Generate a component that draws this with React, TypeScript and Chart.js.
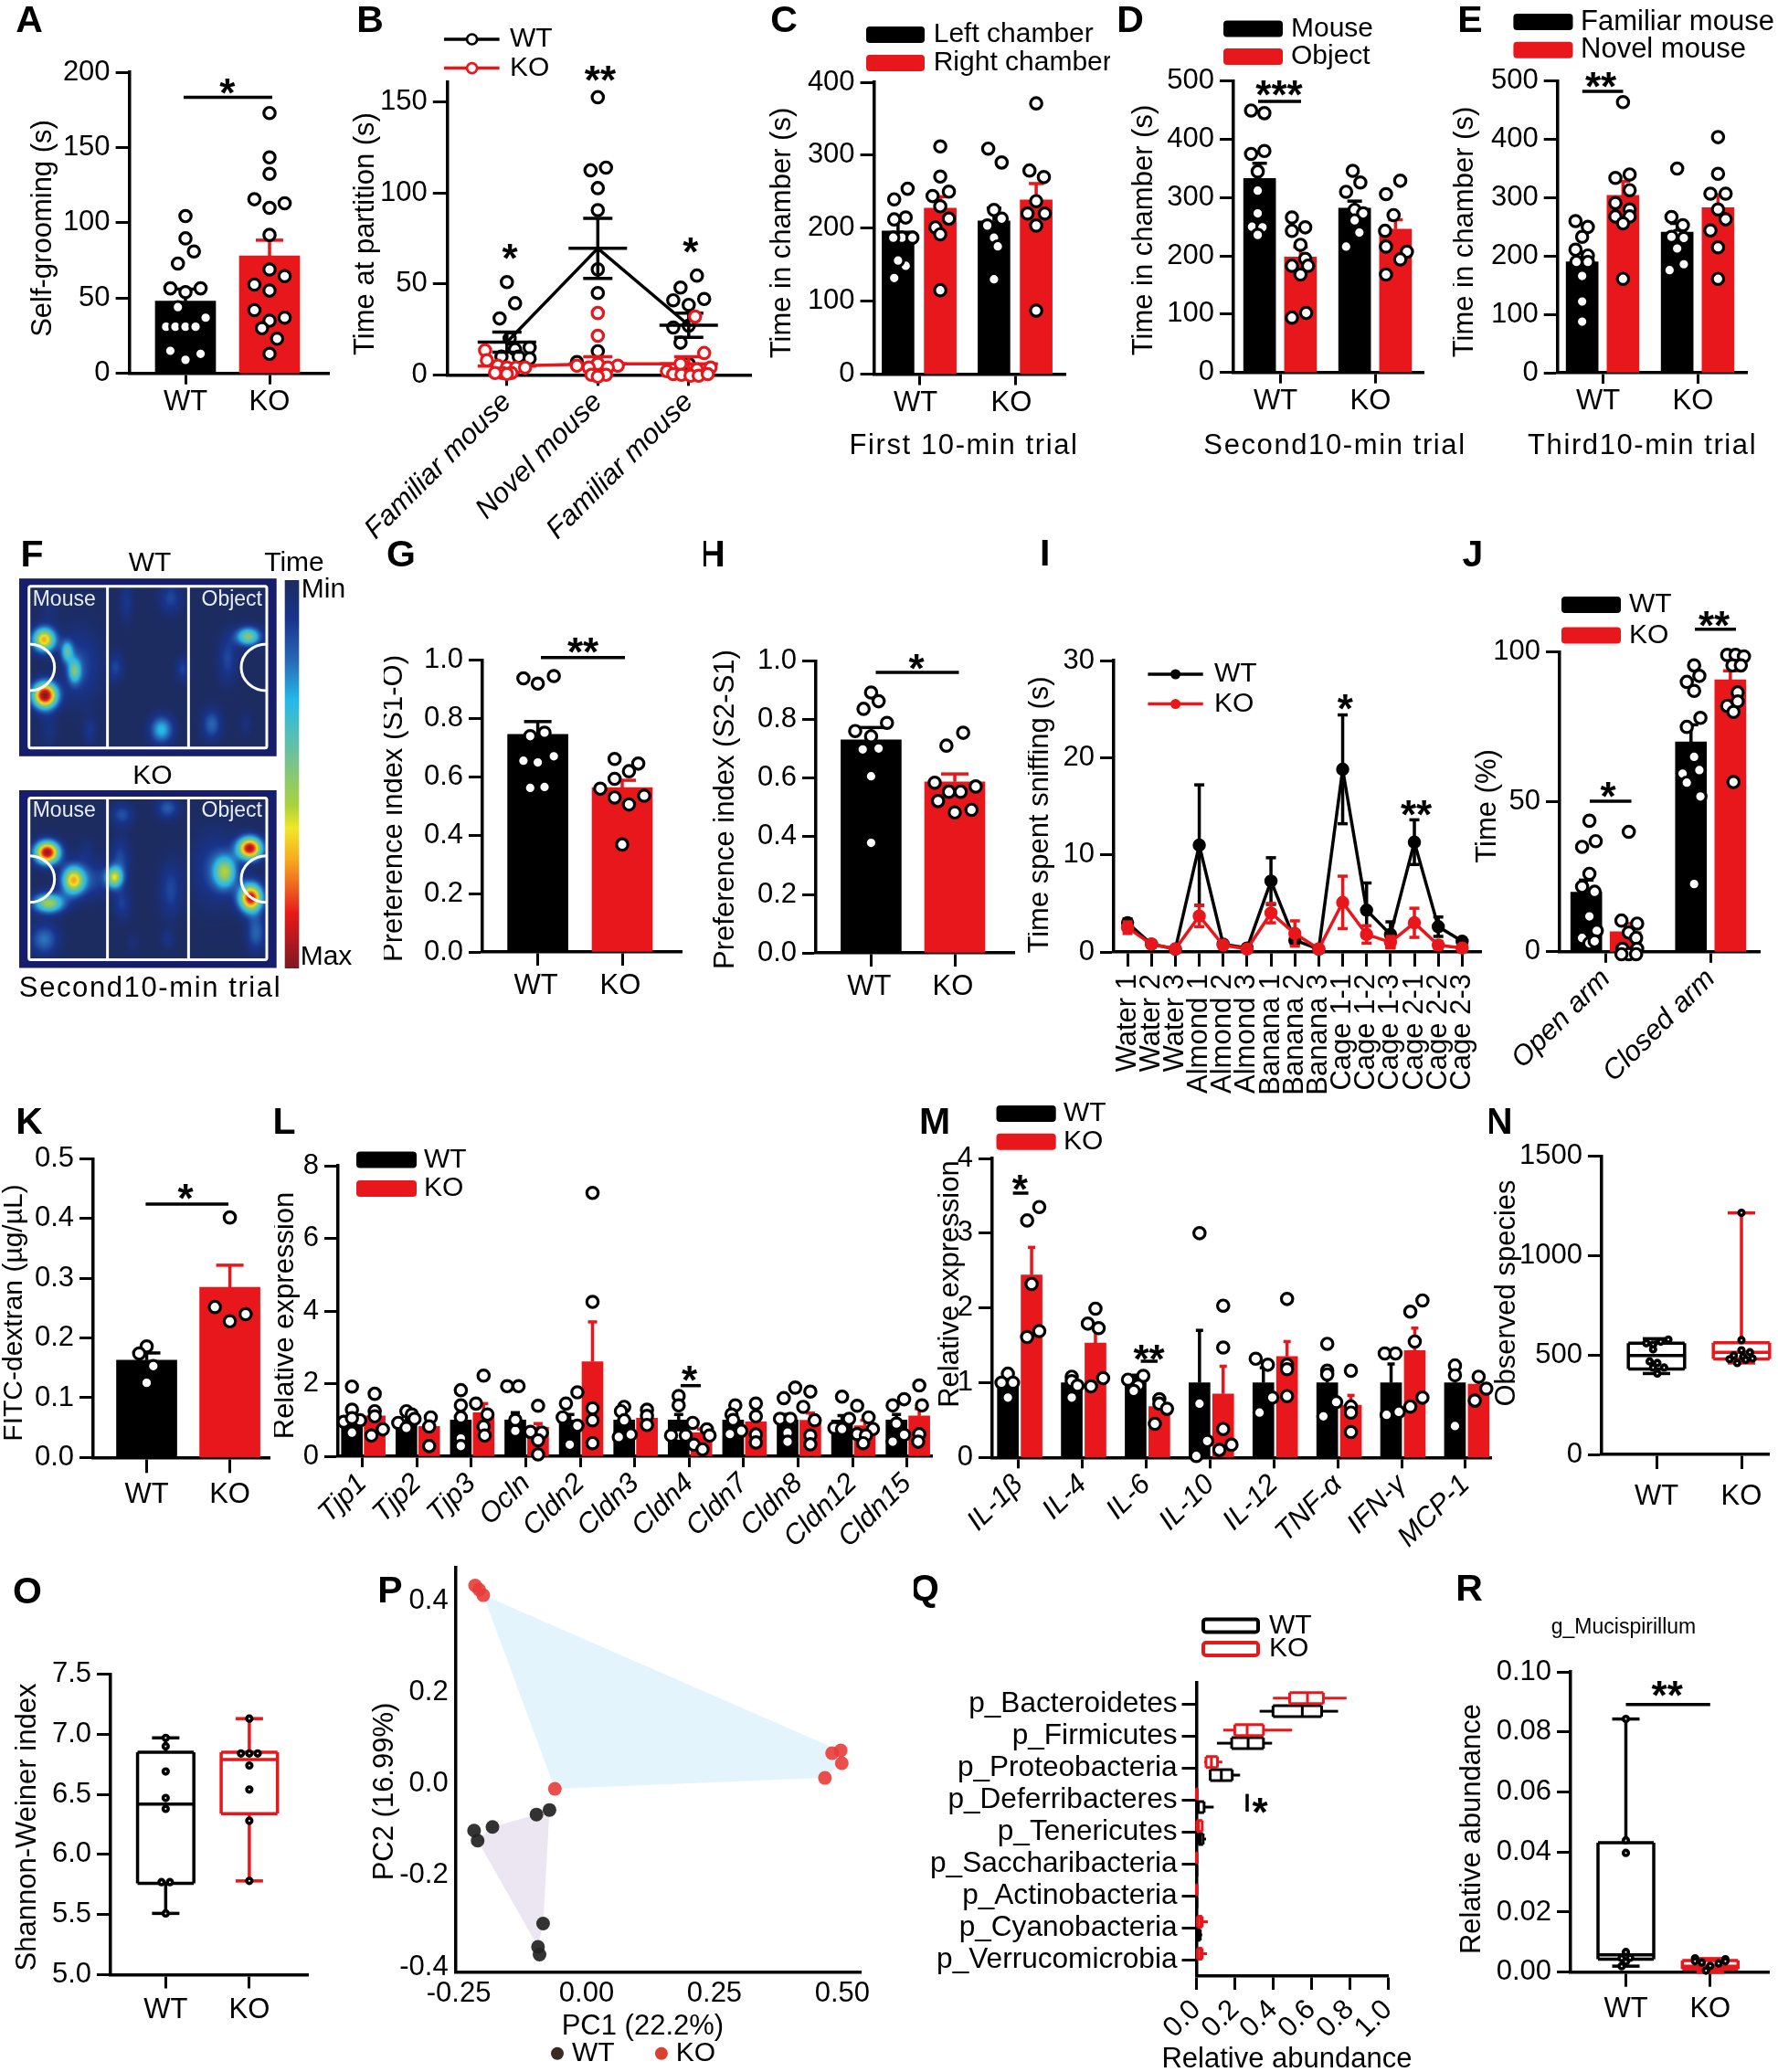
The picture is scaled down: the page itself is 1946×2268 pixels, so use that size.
import React, { useEffect, useRef } from 'react';
import { Chart, registerables } from 'chart.js';
Chart.register(...registerables);

const FF = '"Liberation Sans", Arial, Helvetica, sans-serif';
const BLACK = '#000000';
const RED = '#e8171b';
const TIMEFMT = (v: number) => String(v);

// ---------- DATA ----------
const wtKo = ['WT', 'KO'];
const aMeans = [48, 78];
const aErrs = [8, 10.5];
const aWtDots = [[0,104.5],[0,89.7],[.1,81],[-.09,73],[-.18,56.5],[.18,56.5],[0,54],[-.09,44],[-.23,31],[-.12,31],[0,31],[.12,31],[.24,37],[-.18,15],[.18,13],[0,9]];
const aKoDots = [[0,173],[0,143.5],[0,132.6],[-.18,115.7],[.18,113],[0,110],[0,92],[0,69],[.18,64.6],[-.18,59],[0,55],[-.18,42],[.18,37],[0,35],[-.09,30],[.09,23],[0,13]];

const bLabels = ['Familiar mouse', 'Novel mouse', 'Familiar mouse'];
const bWtMeans = [18, 69.6, 27.3];
const bWtErrs = [5.5, 16.5, 6.7];
const bKoMeans = [4.8, 6, 6];
const bKoErrs = [1.5, 4, 4];
const bWtDots = [
  [[0,51],[.09,39.4],[-.08,31],[.03,20],[.09,14],[.25,15],[-.06,10],[.13,10],[.25,9]],
  [[0,152.7],[.09,114],[-.08,112.5],[0,102.7],[0,90.6],[0,58],[0,45],[0,13],[-.23,7],[0,6]],
  [[.09,54.6],[-.09,48],[-.17,41],[0,38.5],[.17,41.7],[-.17,26],[0,27],[-.09,17.7],[0,6]],
];
const bKoDots = [
  [[-.24,13.5],[-.22,8],[-.1,5],[0,4],[.1,4],[-.05,1],[.05,1],[0,.5],[.2,4],[-.13,1]],
  [[0,34],[0,21.5],[0,6],[-.23,5],[.22,5],[-.1,4],[.11,4],[-.07,0],[.09,0],[0,-1]],
  [[.07,32],[.17,12],[-.09,6],[.24,4],[-.24,2],[.09,3],[-.17,.4],[-.08,0],[.02,-.5],[.11,-.5],[.21,.4]],
];

const cLeftMeans = [196, 210];
const cRightMeans = [227.5, 238.6];
const cLeftErrs = [18, 17.5];
const cRightErrs = [15.5, 22.5];
const cLeftDots = [
  [[.1,254],[-.04,239.5],[-.04,212],[.08,214.6],[.04,187],[-.05,187],[.15,187],[.08,148.5],[-.04,131.7],[0,155.7]],
  [[-.06,309],[.08,290],[.08,213],[-.07,203.6],[0,187],[.04,175],[0,130],[0,225]],
];
const cRightDots = [
  [[0,312],[0,270.7],[-.08,244],[.09,250],[0,230],[.09,213],[-.05,201],[0,191.6],[0,115]],
  [[0,371],[-.07,279],[.08,270],[0,237],[-.09,220],[.09,220],[0,203.6],[0,87]],
];

const dMouseMeans = [333, 282];
const dObjectMeans = [198, 246];
const dMouseErrs = [26, 12];
const dObjectErrs = [17, 16];
const dMouseDots = [
  [[-.09,449.6],[.05,445],[-.09,375],[.05,380],[-.02,345],[-.02,312],[-.02,273],[-.08,250],[.03,249],[-.02,236]],
  [[-.02,346],[.06,326],[-.09,310],[0,279],[.09,273],[0,261],[.05,240],[-.09,216]],
];
const dObjectDots = [
  [[-.09,266],[.05,249],[-.09,243],[0,219],[.05,195],[-.09,183],[.08,183],[0,168],[.06,102],[-.09,94]],
  [[.05,329],[-.1,306],[-.02,270],[-.11,243],[-.1,216],[.12,207],[.05,194],[-.1,168]],
];

const eFamiliarMeans = [190, 241];
const eNovelMeans = [304, 283];
const eFamiliarErrs = [16, 15];
const eNovelErrs = [24, 22];
const eFamiliarDots = [
  [[-.07,260],[.06,250],[0,233],[-.07,211],[.06,201],[-.06,190],[.06,190],[0,166],[0,122],[0,87.6]],
  [[0,350],[-.06,267],[.06,253],[0,235],[-.06,233],[.07,231],[0,213],[.07,186],[-.08,176]],
];
const eNovelDots = [
  [[0,464],[.07,340],[-.08,334],[.07,313],[-.08,291],[.07,280],[-.08,268],[.07,268],[0,256],[0,161]],
  [[0,404],[0,341],[-.08,307],[.08,307],[0,280],[.08,263],[-.08,244],[0,215],[0,161]],
];

// heat-map hot spots: x%, y%, spreadX, spreadY, intensity
const fWtSpots = [[9.7,34.3,3.1,4.6,.72],[10,65.7,3.3,5,1],[18.6,41,1.6,4.2,.36],[21.5,52,1.7,4.8,.38],[24,49,5.2,14,.14],[89,32.6,3.3,3.6,.5],[81,45,2.6,9.5,.14],[55.3,85,3.1,5.4,.32],[58.8,11,3,6,.14],[41.7,13,1.8,8.4,.1],[37.5,50,2.2,5.4,.13],[63.5,51,1.9,4.8,.13],[74.8,82,2.6,6,.2],[27.5,85.7,1.9,5.4,.1],[88,82,1.8,4.8,.06],[11.5,85,2.4,7.2,.07],[11.5,16,2.4,6,.06]];
const fKoSpots = [[10.9,35,3.3,4.3,.97],[11.5,63.5,4.2,3.8,.55],[21,50.6,3,5.4,.66],[37,49,2.2,4,.55],[39.3,38.6,2.6,8.4,.14],[40,64,2.4,6,.12],[40,13.7,3,4.2,.16],[57.6,10,3,4.2,.18],[89.6,32.6,3.3,4.3,.94],[90,60.5,3.1,5.4,.92],[80,46,3,6,.48],[76,44,6,14,.14],[92,80,2.6,7.2,.2],[9.7,84,3.8,6,.22],[57.6,84,1.9,3.6,.08],[58.8,56,3,10.8,.14],[28,50,6,7.2,.14],[25.7,34,2.4,4.8,.06],[44,86,1.8,3.6,.05]];

const gMeans = [.745, .563];
const gErrs = [.044, .025];
const gWtDots = [[-.17,.937],[0,.919],[.19,.945],[.08,.751],[-.09,.739],[.19,.67],[-.17,.655],[0,.649],[-.09,.562],[.08,.565]];
const gKoDots = [[-.09,.661],[.19,.645],[.08,.619],[-.09,.593],[-.26,.559],[-.09,.529],[.26,.535],[.08,.505],[0,.368]];

const hMeans = [.73, .586];
const hErrs = [.042, .027];
const hWtDots = [[0,.892],[.09,.862],[-.09,.836],[.19,.788],[-.19,.76],[0,.742],[.09,.7],[-.1,.697],[0,.605],[0,.377]];
const hKoDots = [[.1,.754],[-.1,.71],[-.24,.583],[.25,.57],[-.07,.552],[.07,.552],[-.2,.52],[0,.481],[.2,.49]];

const iLabels = ['Water 1','Water 2','Water 3','Almond 1','Almond 2','Almond 3','Banana 1','Banana 2','Banana 3','Cage 1-1','Cage 1-2','Cage 1-3','Cage 2-1','Cage 2-2','Cage 2-3'];
const iWtMeans = [3.0,.8,.3,11,.8,.4,7.3,1.2,.3,18.8,4.3,1.8,11.3,2.6,1.1];
const iWtErrs = [.4,.2,.1,6.2,.2,.1,2.4,.4,.1,5.6,2.8,1.3,2.3,1.0,.3];
const iKoMeans = [2.5,.8,.3,3.7,.7,.3,4,1.9,.3,5.1,1.8,1,3,.7,.4];
const iKoErrs = [.6,.3,.1,1.1,.3,.1,1,1.3,.1,2.7,.9,.6,1.5,.4,.2];

const jLabels = ['Open arm', 'Closed arm'];
const jWtMeans = [19.9, 70];
const jKoMeans = [6.7, 90.7];
const jWtErrs = [4, 5.7];
const jKoErrs = [2.7, 3];
const jWtDots = [
  [[.03,43.7],[.09,36.9],[-.04,35],[.03,26],[-.04,21.7],[.08,20],[.03,11.8],[.1,7],[-.04,4.6],[.03,2.8],[.08,3.5]],
  [[.03,95.5],[.08,92],[-.04,90],[.03,87],[.09,78],[-.04,75],[.03,65],[.08,60.6],[-.08,59.4],[-.04,56.4],[.09,51.8],[.03,22.6]],
];
const jKoDots = [
  [[.03,40],[-.04,10.4],[.11,9.4],[.03,6.4],[.1,4.6],[-.03,1],[.03,-.8],[.11,1],[.1,-.8],[-.04,-.8]],
  [[-.03,99],[.05,99],[.13,98.5],[.02,95.5],[.1,95.5],[.07,86.5],[-.03,82],[.07,83.5],[.03,80],[.03,56.6]],
];

const kMeans = [.163, .285];
const kErrs = [.012, .037];
const kWtDots = [[0,.186],[-.09,.174],[.08,.153],[0,.125]];
const kKoDots = [[0,.402],[-.18,.252],[.19,.24],[0,.228]];

const lGenes = ['Tjp1','Tjp2','Tjp3','Ocln','Cldn2','Cldn3','Cldn4','Cldn7','Cldn8','Cldn12','Cldn15'];
const lWtMeans = [1,1,1,1,1,1,1,1,1,1,1];
const lKoMeans = [1.11,.82,1.2,.8,2.6,1.05,.65,.95,.99,.84,1.11];
const lWtErrs = [.12,.1,.2,.2,.15,.1,.15,.12,.15,.12,.15];
const lKoErrs = [.2,.15,.25,.1,1.1,.15,.1,.2,.2,.15,.2];
const lWtDots = [
  [[0,1.92],[0,1.28],[-.15,.95],[.15,.99],[0,.65],[0,1.05]],
  [[0,1.24],[.1,1.15],[-.15,.92],[.15,1.03],[0,.78]],
  [[0,1.82],[0,1.4],[0,1.07],[0,.49],[0,.28]],
  [[-.15,1.93],[.06,1.93],[0,.9],[0,.7],[0,1]],
  [[.14,1.76],[-.07,1.45],[-.13,1.07],[.14,.84],[0,.32]],
  [[0,1.36],[-.06,1.24],[.12,.6],[-.1,.53],[0,.99]],
  [[0,1.66],[0,1.4],[0,.57],[-.14,.57],[.13,.57]],
  [[.04,1.4],[-.03,1.15],[.15,.7],[-.06,.61],[0,1]],
  [[.14,1.89],[-.07,1.6],[-.14,1.03],[.05,1.03],[0,.65],[0,.4]],
  [[0,1.64],[.13,1.03],[-.14,.78],[0,.75]],
  [[-.07,1.4],[.14,1.57],[.14,.59],[-.07,.4],[0,.9]],
];
const lKoDots = [
  [[0,1.72],[0,1.24],[.15,.74],[-.06,.57],[0,1.1]],
  [[.03,1.07],[0,.82],[0,.28]],
  [[0,2.22],[-.14,1.45],[.07,1.15],[0,.82],[.02,.57]],
  [[0,1.39],[-.14,.67],[.07,.65],[0,.44],[0,.05]],
  [[0,7.25],[0,4.25],[0,1.32],[0,.99],[0,.36]],
  [[0,1.28],[0,1.11],[0,.86]],
  [[-.16,.92],[.1,.74],[.15,.57],[-.14,.32],[.02,.19]],
  [[0,1.45],[0,1.1],[0,.6],[0,.38]],
  [[0,1.78],[-.13,1.36],[.08,.99],[0,.57],[0,.33]],
  [[-.14,1.39],[.07,1.07],[.15,.75],[-.14,.61],[.02,.57],[-.03,.36]],
  [[0,1.95],[.05,1.4],[0,.61],[-.02,.4]],
];

const mCytokines = ['IL-1β','IL-4','IL-6','IL-10','IL-12','TNF-α','IFN-γ','MCP-1'];
const mWtMeans = [1,1,1,1,1,1,1,1];
const mKoMeans = [2.44,1.53,.68,.85,1.35,.7,1.43,.98];
const mWtErrs = [.08,.08,.1,.7,.2,.2,.25,.1];
const mKoErrs = [.37,.2,.1,.37,.2,.13,.3,.06];
const mWtDots = [
  [[0,1.12],[-.1,1],[.08,1],[0,.8]],
  [[0,1.08],[0,1.02],[0,.8],[.09,.96]],
  [[-.12,1.04],[.12,1.09],[.04,.96],[-.03,.89]],
  [[0,3],[0,.72],[.12,.22],[-.05,.02]],
  [[-.12,1.32],[.07,1.24],[.14,.8],[-.06,.6]],
  [[0,1.52],[0,1.16],[0,1.11],[.14,.74],[-.06,.55]],
  [[-.1,1.39],[.07,1.39],[.12,.61],[-.07,.57]],
  [[0,1.23],[0,1.1],[0,.42]],
];
const mKoDots = [
  [[.12,3.35],[-.07,3.17],[0,2.32],[.12,1.69],[-.07,1.61]],
  [[0,1.99],[-.12,1.79],[.05,1.73],[.12,1.06],[-.07,.95]],
  [[0,.78],[0,.72],[.12,.65],[-.07,.45]],
  [[0,2.03],[0,1.47],[0,.38],[.13,.17],[-.06,.1]],
  [[0,2.12],[0,1.24],[0,1.18],[0,.82]],
  [[0,1.16],[0,.68],[0,.6],[0,.34]],
  [[.12,2.1],[-.07,1.95],[0,1.55],[.12,.8],[-.07,.68]],
  [[0,1.08],[.12,.92],[-.06,.76]],
];

// box plots: [min, q1, median, q3, max]
const nWtBox = [407, 430, 498, 559.5, 582];
const nKoBox = [460, 480, 513, 562, 1215];
const nWtDots = [[.14,578],[.05,567],[-.12,559],[-.04,552],[-.04,529],[-.08,468],[.01,460],[.09,437],[-.04,437],[.01,407]];
const nKoDots = [[0,1215],[0,575],[0,524],[.1,514],[-.09,498],[.02,491],[.13,483],[-.14,479],[.05,476],[-.05,460]];

const oWtBox = [5.51, 5.76, 6.42, 6.85, 6.97];
const oKoBox = [5.78, 6.34, 6.79, 6.85, 7.13];
const oWtDots = [[0,6.97],[0,6.9],[0,6.69],[0,6.47],[0,6.38],[-.05,5.77],[.05,5.77],[0,5.51]];
const oKoDots = [[0,7.13],[-.1,6.84],[0,6.84],[.1,6.84],[0,6.74],[0,6.54],[0,6.28],[0,5.78]];

const pKoPoints = [[-.218,.433],[-.21,.424],[-.202,.412],[-.062,-.011],[.497,.073],[.48,.067],[.499,.045],[.466,.013]];
const pWtPoints = [[-.22,-.102],[-.213,-.124],[-.184,-.094],[-.098,-.067],[-.0725,-.057],[-.085,-.305],[-.095,-.356],[-.092,-.373]];
const pKoHull = [[-.202,.412],[.48,.08],[.499,.045],[.466,.013],[-.062,-.011],[-.202,.412]];
const pWtHull = [[-.184,-.094],[-.098,-.067],[-.0725,-.057],[-.085,-.305],[-.095,-.356],[-.213,-.124],[-.184,-.094]];

const qPhyla = ['p_Bacteroidetes','p_Firmicutes','p_Proteobacteria','p_Deferribacteres','p_Tenericutes','p_Saccharibacteria','p_Actinobacteria','p_Cyanobacteria','p_Verrucomicrobia'];
const qKoBoxes = [[.4,.487,.58,.663,.784],[.14,.2,.265,.35,.5],[.04,.05,.078,.11,.135],[0,0,.002,.005,.008],[0,.002,.01,.03,.035],[0,0,.001,.003,.005],[0,0,.001,.003,.005],[0,.005,.02,.03,.06],[0,.005,.02,.03,.055]];
const qWtBoxes = [[.33,.4,.553,.654,.74],[.107,.184,.27,.35,.395],[.072,.072,.13,.187,.228],[0,.005,.01,.04,.09],[0,.01,.02,.035,.05],[0,0,0,.002,.005],[0,0,0,.002,.004],[0,.003,.01,.02,.03],[0,0,0,0,.002]];

const rWtBox = [.002, .0043, .0058, .0431, .0843];
const rKoBox = [0, .001, .002, .0039, .0045];
const rWtDots = [[0,.0843],[0,.0439],[0,.0397],[0,.0067],[.05,.0048],[-.05,.0046],[0,.0035],[-.05,.002]];
const rKoDots = [[-.18,.0046],[.18,.0043],[-.1,.0032],[.1,.0029],[0,.0021],[-.05,.0005],[-.18,.0036],[.18,.0036]];

// ---------- DECORATION HELPERS (labels, legends, significance marks) ----------
type Opt = { size?: number; weight?: string; align?: any; rot?: number; style?: string; color?: string; spacing?: number; star?: boolean };
const txt = (t: string, x: number, y: number, o: Opt = {}) => ({ k: 'txt', t, x, y, ...o });
const letter = (t: string, x: number, y: number) => txt(t, x, y + 2, { size: 41, weight: 'bold' });
const ytitle = (t: string, x: number, y: number, size = 31) => txt(t, x, y, { rot: -90, size });
const ln = (x1: number, y1: number, x2: number, y2: number, color = BLACK, w = 3.5) => ({ k: 'ln', x1, y1, x2, y2, color, w });
const rc = (x1: number, yc: number, x2: number, color: string, h = 18) => ({ k: 'rc', x1, yc, x2, color, h });
const orc = (x1: number, yc: number, x2: number, color: string) => ({ k: 'orc', x1, yc, x2, color });
const dot = (x: number, y: number, r: number, fill: string, stroke: string, bw: number) => ({ k: 'dot', x, y, r, fill, stroke, bw });
const stars = (t: string, x: number, y: number) => txt(t, x, y, { star: true, size: 44, weight: 'bold' });
const sig = (x1: number, x2: number, y: number, t: string, sx: number, sy: number) => [ln(x1, y, x2, y), stars(t, sx, sy)];
const legBars = (x1: number, x2: number, tx: number, y1: number, y2: number, a: string, b: string, size = 30) => [
  rc(x1, y1, x2, BLACK), rc(x1, y2, x2, RED),
  txt(a, tx, y1, { align: 'left', size }), txt(b, tx, y2, { align: 'left', size }),
];
const trial = (t: string, x: number, y: number) => txt(t, x, y, { spacing: 1.6, size: 31 });

function drawDeco(chart: any, box: number[], items: any[]) {
  const ctx = chart.ctx;
  const ox = box[0], oy = box[1];
  ctx.save();
  for (const d of items) {
    if (d.k === 'ln') {
      ctx.strokeStyle = d.color; ctx.lineWidth = d.w; ctx.lineCap = 'butt';
      ctx.beginPath(); ctx.moveTo(d.x1 - ox, d.y1 - oy); ctx.lineTo(d.x2 - ox, d.y2 - oy); ctx.stroke();
    } else if (d.k === 'rc') {
      ctx.fillStyle = d.color;
      ctx.beginPath(); ctx.roundRect(d.x1 - ox, d.yc - d.h / 2 - oy, d.x2 - d.x1, d.h, 4); ctx.fill();
    } else if (d.k === 'orc') {
      ctx.strokeStyle = d.color; ctx.lineWidth = 4;
      ctx.beginPath(); ctx.roundRect(d.x1 - ox + 2, d.yc - 7 - oy, d.x2 - d.x1 - 4, 14, 3); ctx.stroke();
    } else if (d.k === 'dot') {
      ctx.beginPath(); ctx.arc(d.x - ox, d.y - oy, d.r, 0, Math.PI * 2);
      ctx.fillStyle = d.fill; ctx.fill();
      if (d.bw) { ctx.strokeStyle = d.stroke; ctx.lineWidth = d.bw; ctx.stroke(); }
    } else if (d.k === 'txt') {
      const size = d.size || 31;
      ctx.save();
      ctx.font = `${d.style || ''} ${d.weight || ''} ${size}px ${FF}`;
      ctx.fillStyle = d.color || BLACK;
      ctx.textAlign = d.align || 'center';
      ctx.textBaseline = d.star ? 'alphabetic' : 'middle';
      (ctx as any).letterSpacing = (d.spacing || 0) + 'px';
      ctx.translate(d.x - ox, d.y - oy + (d.star ? size * 0.56 : 0));
      if (d.rot) ctx.rotate((d.rot * Math.PI) / 180);
      ctx.fillText(d.t, 0, 0);
      ctx.restore();
    }
  }
  ctx.restore();
}

function drawBoxes(chart: any, cfg: any) {
  const ctx = chart.ctx;
  const xs = chart.scales.x, ys = chart.scales.y;
  const lw = cfg.boxLW || 3.5;
  ctx.save();
  ctx.lineCap = 'butt';
  ctx.lineWidth = lw;
  for (const b of cfg.boxes) {
    const [mn, q1, med, q3, mx] = b.v;
    ctx.strokeStyle = b.color;
    const seg = (a: number, p: number, c: number, q: number) => { // value a..c across fixed p..q
      ctx.beginPath();
      if (cfg.horizontal) { ctx.moveTo(xs.getPixelForValue(a), p); ctx.lineTo(xs.getPixelForValue(c), q); }
      else { ctx.moveTo(p, ys.getPixelForValue(a)); ctx.lineTo(q, ys.getPixelForValue(c)); }
      ctx.stroke();
    };
    const c = cfg.horizontal ? ys.getPixelForValue(b.at) : xs.getPixelForValue(b.at);
    const h = b.half, cp = b.cap;
    seg(q3, c, mx, c); seg(mn, c, q1, c);
    if (cp) { seg(mx, c - cp, mx, c + cp); seg(mn, c - cp, mn, c + cp); }
    seg(q1, c - h, q1, c + h); seg(q3, c - h, q3, c + h); seg(med, c - h, med, c + h);
    seg(q1, c - h, q3, c - h); seg(q1, c + h, q3, c + h);
  }
  ctx.restore();
}

function errorsAfter(chart: any, args: any) {
  const ds = chart.data.datasets[args.index];
  if (!ds.errors) return;
  const ctx = chart.ctx;
  const xs = chart.scales.x, ys = chart.scales.y;
  ctx.save();
  ctx.strokeStyle = ds.errColor; ctx.lineWidth = ds.errLW || 3.5; ctx.lineCap = 'butt';
  ds.data.forEach((pt: any, i: number) => {
    const e = ds.errors[i];
    const x = xs.getPixelForValue(pt.x);
    const top = ys.getPixelForValue(pt.y + e);
    const bot = ds.errBoth ? ys.getPixelForValue(pt.y - e) : ys.getPixelForValue(pt.y);
    ctx.beginPath(); ctx.moveTo(x, top); ctx.lineTo(x, bot); ctx.stroke();
    ctx.beginPath(); ctx.moveTo(x - ds.cap, top); ctx.lineTo(x + ds.cap, top); ctx.stroke();
    if (ds.errBoth) { ctx.beginPath(); ctx.moveTo(x - ds.cap, bot); ctx.lineTo(x + ds.cap, bot); ctx.stroke(); }
  });
  ctx.restore();
}

// ---------- DATASET HELPERS ----------
const bars = (color: string, xs: number[], ys: number[], errs: number[], thick: number, cap: number) => ({
  type: 'bar', grouped: false, barThickness: thick, backgroundColor: color, borderWidth: 0,
  data: xs.map((x, i) => ({ x, y: ys[i] })), errors: errs, errColor: color, cap, clip: false,
});
const jittered = (center: number, list: number[][]) => list.map(([j, v]) => ({ x: center + j, y: v }));
const scatterDots = (data: any[], stroke = BLACK, r = 6.2, bw = 3.2) => ({
  type: 'scatter', data, pointRadius: r, pointBorderWidth: bw, pointBackgroundColor: '#fff', pointBorderColor: stroke, clip: false, showLine: false,
});
const lineSeries = (color: string, xs: number[], ys: number[], errs: number[], style: string, r: number, cap: number, lw = 3.5) => ({
  type: 'scatter', showLine: true, tension: 0, borderColor: color, borderWidth: lw, backgroundColor: color,
  data: xs.map((x, i) => ({ x, y: ys[i] })), pointStyle: style, pointRadius: r, pointBorderWidth: lw,
  pointBackgroundColor: color, pointBorderColor: color, errors: errs, errBoth: true, errColor: color, cap, clip: false,
});

function buildConfig(p: any) {
  const [bl, bt, br, bb] = p.box;
  const [l, t, r, b] = p.plot;
  const xMin = p.xRange ? p.xRange[0] : 1 - (p.x0 - l) / p.dx;
  const xMax = p.xRange ? p.xRange[1] : 1 + (r - p.x0) / p.dx;
  const lw = 3.5;
  const fontOf = (o: any = {}) => ({ family: FF, size: o.size || 31, style: o.style || 'normal', weight: 'normal', lineHeight: 1.0 });
  return {
    type: 'bar',
    data: { datasets: p.datasets },
    options: {
      responsive: false, animation: false, devicePixelRatio: 1, events: [],
      layout: { padding: { left: 0, top: t - bt, right: br - r, bottom: 0 } },
      plugins: { legend: { display: false }, tooltip: { enabled: false } },
      scales: {
        x: {
          type: 'linear', min: xMin, max: xMax, offset: false,
          afterFit: (s: any) => { s.height = bb - b; },
          afterBuildTicks: (s: any) => { s.ticks = p.xTicks.map((v: number) => ({ value: v })); },
          ticks: {
            autoSkip: false, color: BLACK, padding: p.xPad ?? 4, font: fontOf(p.xFont),
            minRotation: p.xRot || 0, maxRotation: p.xRot || 0, labelOffset: p.xLabelOffset || 0,
            callback: p.xFmt,
          },
          grid: { offset: false, drawOnChartArea: false, drawTicks: !!p.xTickLen, tickLength: p.xTickLen ?? 0, tickWidth: 3, tickColor: BLACK },
          border: { display: true, width: lw, color: BLACK },
        },
        y: {
          type: 'linear', min: p.yRange[0], max: p.yRange[1], reverse: !!p.yReverse,
          afterFit: (s: any) => { s.width = l - bl; },
          afterBuildTicks: (s: any) => { s.ticks = p.yTicks.map((v: number) => ({ value: v })); },
          ticks: { autoSkip: false, color: BLACK, padding: p.yPad ?? 6, font: fontOf(p.yFont), callback: p.yFmt || TIMEFMT },
          grid: { offset: false, drawOnChartArea: false, drawTicks: !!p.yTickLen, tickLength: p.yTickLen ?? 0, tickWidth: 3, tickColor: BLACK },
          border: { display: true, width: lw, color: BLACK },
        },
      },
    },
    plugins: [{
      id: 'panelDeco',
      beforeDatasetsDraw: (chart: any) => { if (p.boxes) drawBoxes(chart, p); },
      afterDatasetDraw: errorsAfter,
      afterDraw: (chart: any) => drawDeco(chart, p.box, p.deco || []),
    }],
  };
}

// ---------- HEAT MAP ----------
const heatStops: [number, number[]][] = [[0,[28,43,96]],[.1,[24,52,140]],[.2,[40,100,178]],[.31,[36,185,233]],[.45,[111,193,153]],[.58,[170,210,60]],[.64,[240,232,40]],[.72,[247,170,30]],[.8,[235,90,30]],[.86,[230,25,25]],[1,[125,25,35]]];
const heatColor = (t: number) => {
  const v = Math.max(0, Math.min(1, t));
  for (let i = 1; i < heatStops.length; i++) {
    if (v <= heatStops[i][0]) {
      const [a, ca] = heatStops[i - 1]; const [b, cb] = heatStops[i];
      const f = (v - a) / (b - a);
      return ca.map((c, k) => c + (cb[k] - c) * f);
    }
  }
  return heatStops[heatStops.length - 1][1];
};

function heatConfig(p: any) {
  const [bl, bt, br, bb] = p.box;
  const [l, t, r, b] = p.plot;
  return {
    type: 'scatter',
    data: { datasets: [{ data: p.spots.map((s: number[]) => ({ x: s[0], y: s[1], sx: s[2], sy: s[3], a: s[4] })), pointRadius: 0 }] },
    options: {
      responsive: false, animation: false, devicePixelRatio: 1, events: [],
      layout: { padding: { left: l - bl, top: t - bt, right: br - r, bottom: bb - b } },
      plugins: { legend: { display: false }, tooltip: { enabled: false } },
      scales: { x: { type: 'linear', display: false, min: 0, max: 100 }, y: { type: 'linear', display: false, min: 0, max: 100, reverse: true } },
    },
    plugins: [{
      id: 'arena',
      beforeDatasetsDraw: (chart: any) => {
        const ctx = chart.ctx; const X = chart.scales.x; const Y = chart.scales.y;
        const px = (v: number) => X.getPixelForValue(v); const py = (v: number) => Y.getPixelForValue(v);
        const spots = chart.data.datasets[0].data;
        ctx.save();
        ctx.fillStyle = '#161d6b';
        ctx.fillRect(px(0), py(0), px(100) - px(0), py(100) - py(0));
        const x0 = 3.8, x1 = 96.2, y0 = 4.4, y1 = 95.4;
        const W = 180, H = 120;
        const off = document.createElement('canvas'); off.width = W; off.height = H;
        const oc = off.getContext('2d') as CanvasRenderingContext2D;
        const img = oc.createImageData(W, H);
        for (let j = 0; j < H; j++) for (let i = 0; i < W; i++) {
          const vx = x0 + (x1 - x0) * (i + .5) / W; const vy = y0 + (y1 - y0) * (j + .5) / H;
          let s = 0;
          for (const q of spots) { const dx = (vx - q.x) / q.sx, dy = (vy - q.y) / q.sy; s += q.a * Math.exp(-.5 * (dx * dx + dy * dy)); }
          const c = heatColor(s); const o = 4 * (j * W + i);
          img.data[o] = c[0]; img.data[o + 1] = c[1]; img.data[o + 2] = c[2]; img.data[o + 3] = 255;
        }
        oc.putImageData(img, 0, 0);
        ctx.imageSmoothingEnabled = true;
        ctx.drawImage(off, px(x0), py(y0), px(x1) - px(x0), py(y1) - py(y0));
        ctx.strokeStyle = '#fff'; ctx.lineWidth = 3;
        ctx.beginPath(); ctx.roundRect(px(x0), py(y0), px(x1) - px(x0), py(y1) - py(y0), 2); ctx.stroke();
        for (const v of [34.3, 65.8]) { ctx.beginPath(); ctx.moveTo(px(v), py(y0)); ctx.lineTo(px(v), py(y1)); ctx.stroke(); }
        const cy = py(50);
        ctx.beginPath(); ctx.ellipse(px(x0), cy, 28, 25.5, 0, -Math.PI / 2, Math.PI / 2); ctx.stroke();
        ctx.beginPath(); ctx.ellipse(px(x1), cy, 28, 25.5, 0, Math.PI / 2, -Math.PI / 2); ctx.stroke();
        ctx.fillStyle = '#e8ecf5'; ctx.textBaseline = 'middle'; ctx.font = `23px ${FF}`;
        ctx.textAlign = 'left'; ctx.fillText('Mouse', px(x0) + 4, py(11.8));
        ctx.textAlign = 'right'; ctx.fillText('Object', px(x1) - 5, py(11.8));
        if (p.colorbar) {
          const g = ctx.createLinearGradient(0, 635 - bt, 0, 1060 - bt);
          heatStops.forEach(([s, c]) => g.addColorStop(s, `rgb(${c[0]},${c[1]},${c[2]})`));
          ctx.fillStyle = g; ctx.fillRect(311.7 - bl, 635 - bt, 15.6, 425);
        }
        ctx.restore();
      },
      afterDraw: (chart: any) => drawDeco(chart, p.box, p.deco || []),
    }],
  };
}

// ---------- PANELS ----------
const twoBarPanel = (o: any) => ({
  xTicks: [1, 2], xFmt: (v: number) => wtKo[v - 1], xTickLen: 12, yTickLen: 15,
  ...o,
  datasets: [
    scatterDots(jittered(2, o.koDots)), scatterDots(jittered(1, o.wtDots)),
    bars(RED, [2], [o.means[1]], [o.errs[1]], o.thick, o.cap),
    bars(BLACK, [1], [o.means[0]], [o.errs[0]], o.thick, o.cap),
  ],
});
const groupedPanel = (o: any) => {
  const ox = o.off;
  const gs = o.blackMeans.map((_: any, i: number) => i + 1);
  const d: any[] = [];
  o.redDots.forEach((l: number[][], i: number) => d.push(scatterDots(jittered(i + 1 + (o.offR ?? ox), l))));
  o.blackDots.forEach((l: number[][], i: number) => d.push(scatterDots(jittered(i + 1 - ox, l))));
  d.push(bars(RED, gs.map((g: number) => g + (o.offR ?? ox)), o.redMeans, o.redErrs, o.thick, o.cap));
  d.push(bars(BLACK, gs.map((g: number) => g - ox), o.blackMeans, o.blackErrs, o.thick, o.cap));
  return { xTickLen: 12, yTickLen: 15, xTicks: gs, ...o, datasets: d };
};
const boxPanel = (o: any) => ({
  xTicks: [1, 2], xFmt: (v: number) => wtKo[v - 1], xTickLen: 16, yTickLen: 15,
  ...o,
  datasets: [
    scatterDots(jittered(2, o.koDots), o.dotColor || BLACK, 2.8, 3.6),
    scatterDots(jittered(1, o.wtDots), BLACK, 2.8, 3.6),
  ],
  boxes: [
    { at: 1, v: o.wtBox, color: BLACK, half: o.half, cap: o.cap },
    { at: 2, v: o.koBox, color: RED, half: o.half, cap: o.cap },
  ],
});

const panels: any[] = [
  twoBarPanel({
    box: [0, 0, 375, 560], plot: [141.6, 79.2, 360, 408.7], x0: 203, dx: 92, yRange: [0, 200], yTicks: [0, 50, 100, 150, 200],
    means: aMeans, errs: aErrs, wtDots: aWtDots, koDots: aKoDots, thick: 66, cap: 15,
    deco: [letter('A', 32, 22), ytitle('Self-grooming (s)', 47.8, 250), ...sig(201, 298, 106.4, '*', 248.7, 92)],
  }),
  {
    box: [380, 0, 880, 600], plot: [489.8, 89.9, 822.7, 410.3], x0: 554.8, dx: 99.5, yRange: [0, 161], yTicks: [0, 50, 100, 150],
    xTicks: [1, 2, 3], xFmt: (v: number) => bLabels[v - 1], xRot: 45, xFont: { style: 'italic' }, xTickLen: 12, yTickLen: 16, xPad: 2,
    datasets: [
      ...bKoDots.map((l, i) => scatterDots(jittered(i + 1, l), RED)),
      lineSeries(RED, [1, 2, 3], bKoMeans, bKoErrs, 'line', 32, 16),
      lineSeries(BLACK, [1, 2, 3], bWtMeans, bWtErrs, 'line', 32, 16),
      ...bWtDots.map((l, i) => scatterDots(jittered(i + 1, l))),
    ],
    deco: [letter('B', 405, 22), ytitle('Time at partition (s)', 400.5, 256), stars('*', 558, 273.6), stars('**', 656.9, 78.5), stars('*', 755.7, 266),
      ln(486, 43, 546.6, 43), dot(516.6, 43, 5.5, '#fff', BLACK, 2.6), txt('WT', 558, 43, { align: 'left', size: 30 }),
      ln(486, 74.6, 546.6, 74.6, RED), dot(516.6, 74.6, 5.5, '#fff', RED, 2.6), txt('KO', 558, 74.6, { align: 'left', size: 30 })],
  },
  groupedPanel({
    box: [840, 0, 1215, 510], plot: [956.6, 90, 1166, 409.5], x0: 1006, dx: 105, yRange: [0, 400], yTicks: [0, 100, 200, 300, 400], off: .22, xLabelOffset: -4,
    xFmt: (v: number) => wtKo[v - 1], thick: 35, cap: 8,
    blackMeans: cLeftMeans, redMeans: cRightMeans, blackErrs: cLeftErrs, redErrs: cRightErrs, blackDots: cLeftDots, redDots: cRightDots,
    deco: [letter('C', 858, 22), ytitle('Time in chamber (s)', 856, 255), ...legBars(948, 1012, 1021.7, 38, 69, 'Left chamber', 'Right chamber'), trial('First 10-min trial', 1055, 488)],
  }),
  groupedPanel({
    box: [1225, 0, 1615, 510], plot: [1350, 88.8, 1558, 407.6], x0: 1401, dx: 104, yRange: [0, 500], yTicks: [0, 100, 200, 300, 400, 500], off: .215, xLabelOffset: -5,
    xFmt: (v: number) => wtKo[v - 1], thick: 35, cap: 8,
    blackMeans: dMouseMeans, redMeans: dObjectMeans, blackErrs: dMouseErrs, redErrs: dObjectErrs, blackDots: dMouseDots, redDots: dObjectDots,
    deco: [letter('D', 1237, 22), ytitle('Time in chamber (s)', 1252, 252), ...legBars(1339, 1404, 1413, 31.4, 62, 'Mouse', 'Object'), ...sig(1377, 1424, 111, '***', 1400, 94), trial('Second10-min trial', 1461, 488)],
  }),
  groupedPanel({
    box: [1590, 0, 1946, 510], plot: [1704.7, 88.8, 1912, 408], x0: 1754, dx: 104, yRange: [0, 500], yTicks: [0, 100, 200, 300, 400, 500], off: .215, xLabelOffset: -5,
    xFmt: (v: number) => wtKo[v - 1], thick: 35, cap: 8,
    blackMeans: eFamiliarMeans, redMeans: eNovelMeans, blackErrs: eFamiliarErrs, redErrs: eNovelErrs, blackDots: eFamiliarDots, redDots: eNovelDots,
    deco: [letter('E', 1609, 22), ytitle('Time in chamber (s)', 1603, 254), ...legBars(1656.4, 1721.5, 1730, 24, 54.7, 'Familiar mouse', 'Novel mouse', 31), ...sig(1731.8, 1776.5, 100, '**', 1752, 85), trial('Third10-min trial', 1797.6, 488)],
  }),
  { heat: true, colorbar: true, box: [0, 590, 385, 1100], plot: [21, 633.2, 302.7, 827.8], spots: fWtSpots,
    deco: [letter('F', 35, 607), txt('WT', 164, 617, { size: 30 }), txt('Time', 322, 617, { size: 30 }), txt('Min', 354, 646, { size: 30 }), txt('Max', 357, 1047.7, { size: 30 }), txt('KO', 167, 850, { size: 30 }), trial('Second10-min trial', 164.5, 1082.5)] },
  { heat: true, box: [0, 840, 320, 1075], plot: [21, 865, 302.7, 1059.5], spots: fKoSpots, deco: [] },
  twoBarPanel({
    box: [420, 590, 760, 1110], plot: [528, 722.4, 746, 1042], x0: 588.6, dx: 92.4, yRange: [0, 1], yTicks: [0, .2, .4, .6, .8, 1], yFmt: (v: number) => v.toFixed(1), xTickLen: 15, xPad: 7, xLabelOffset: -2,
    means: gMeans, errs: gErrs, wtDots: gWtDots, koDots: gKoDots, thick: 66, cap: 15,
    deco: [letter('G', 439, 607), ytitle('Preference index (S1-O)', 431.8, 885), ...sig(592, 684, 719.7, '**', 638, 704)],
  }),
  twoBarPanel({
    box: [770, 590, 1125, 1110], plot: [893, 723.5, 1110, 1043], x0: 953.4, dx: 91.6, yRange: [0, 1], yTicks: [0, .2, .4, .6, .8, 1], yFmt: (v: number) => v.toFixed(1), xTickLen: 15, xPad: 7, xLabelOffset: -2,
    means: hMeans, errs: hErrs, wtDots: hWtDots, koDots: hKoDots, thick: 66, cap: 15,
    deco: [letter('H', 779, 607), ytitle('Preference index (S2-S1)', 794, 886), ...sig(958.5, 1049.5, 736, '*', 1003, 722)],
  }),
  {
    box: [1125, 590, 1690, 1210], plot: [1219, 723, 1621, 1042], x0: 1234.1, dx: 26.16, yRange: [0, 30], yTicks: [0, 10, 20, 30],
    xTicks: iLabels.map((_, i) => i + 1), xFmt: (v: number) => iLabels[v - 1], xRot: 90, xTickLen: 16, yTickLen: 15, xPad: 8,
    datasets: [
      lineSeries(RED, iLabels.map((_, i) => i + 1), iKoMeans, iKoErrs, 'circle', 5.5, 5.5),
      lineSeries(BLACK, iLabels.map((_, i) => i + 1), iWtMeans, iWtErrs, 'circle', 5.5, 5.5),
    ],
    deco: [letter('I', 1143.6, 606), ytitle('Time spent sniffing (s)', 1138.8, 892), stars('*', 1472.4, 766.6), stars('**', 1550, 882.5),
      ln(1256.4, 738, 1316.7, 738), dot(1286.6, 738, 5.5, BLACK, BLACK, 0), txt('WT', 1329, 738, { align: 'left', size: 30 }),
      ln(1256.4, 770.6, 1316.7, 770.6, RED), dot(1286.6, 770.6, 5.5, RED, RED, 0), txt('KO', 1329, 770.6, { align: 'left', size: 30 })],
  },
  groupedPanel({
    box: [1600, 590, 1990, 1200], plot: [1707, 713.6, 1926, 1041.8], x0: 1757.7, dx: 114.6, yRange: [0, 100], yTicks: [0, 50, 100], off: .188,
    xFmt: (v: number) => jLabels[v - 1], xRot: 45, xFont: { style: 'italic' }, thick: 34, cap: 8, xPad: 2,
    blackMeans: jWtMeans, redMeans: jKoMeans, blackErrs: jWtErrs, redErrs: jKoErrs, blackDots: jWtDots, redDots: jKoDots,
    deco: [letter('J', 1612, 607), ytitle('Time (%)', 1628.7, 882.5), ...legBars(1709, 1774, 1783, 662, 695.5, 'WT', 'KO'), ...sig(1740, 1785.5, 877, '*', 1760, 862.7), ...sig(1855, 1900, 688.7, '**', 1876, 675)],
  }),
  twoBarPanel({
    box: [0, 1200, 305, 1660], plot: [102, 1268.6, 298.5, 1595.3], x0: 161.4, dx: 92.4, yRange: [0, .5], yTicks: [0, .1, .2, .3, .4, .5], yFmt: (v: number) => v.toFixed(1), xTickLen: 17, xPad: 9,
    means: kMeans, errs: kErrs, wtDots: kWtDots, koDots: kKoDots, thick: 66, cap: 15,
    deco: [letter('K', 32, 1228), ytitle('FITC-dextran (µg/µL)', 16, 1437, 30), ...sig(159.4, 250, 1318, '*', 203, 1302.8)],
  }),
  groupedPanel({
    box: [300, 1200, 1075, 1690], plot: [370, 1276, 1020, 1594], x0: 396.7, dx: 59.6, yRange: [0, 8], yTicks: [0, 2, 4, 6, 8], off: .193, offR: .225,
    xFmt: (v: number) => lGenes[v - 1], xRot: 45, xFont: { style: 'italic' }, thick: 23, cap: 5, xPad: 2,
    blackMeans: lWtMeans, redMeans: lKoMeans, blackErrs: lWtErrs, redErrs: lKoErrs, blackDots: lWtDots, redDots: lKoDots,
    deco: [letter('L', 311, 1228), ytitle('Relative expression', 312.5, 1440), ...legBars(390, 456, 464, 1269.6, 1301, 'WT', 'KO'), ...sig(745, 767, 1516.7, '*', 754.5, 1501.8)],
  }),
  groupedPanel({
    box: [1000, 1200, 1685, 1700], plot: [1086, 1268, 1632, 1595.3], x0: 1114.6, dx: 69.9, yRange: [0, 4], yTicks: [0, 1, 2, 3, 4], off: .164, offR: .207,
    xFmt: (v: number) => mCytokines[v - 1], xRot: 45, xFont: { style: 'italic' }, thick: 23, cap: 4, xPad: 2,
    blackMeans: mWtMeans, redMeans: mKoMeans, blackErrs: mWtErrs, redErrs: mKoErrs, blackDots: mWtDots, redDots: mKoDots,
    deco: [letter('M', 1023, 1228), ytitle('Relative expression', 1040.4, 1405.6), ...legBars(1090.5, 1155.7, 1164, 1218.9, 1249.7, 'WT', 'KO'), ...sig(1108.6, 1125.5, 1306, '*', 1116.4, 1292.8), ...sig(1248.6, 1267, 1490, '**', 1257.6, 1478.6)],
  }),
  boxPanel({
    box: [1630, 1200, 1946, 1660], plot: [1753, 1265.6, 1936, 1592], x0: 1813, dx: 93, yRange: [0, 1500], yTicks: [0, 500, 1000, 1500], xPad: 15,
    wtBox: nWtBox, koBox: nKoBox, wtDots: nWtDots, koDots: nKoDots, half: 30.8, cap: 15,
    deco: [letter('N', 1640.7, 1228), ytitle('Observed species', 1649.8, 1415.5)],
  }),
  boxPanel({
    box: [0, 1715, 345, 2240], plot: [121, 1832.5, 339, 2161.5], x0: 181.8, dx: 92.2, yRange: [5, 7.5], yTicks: [5, 5.5, 6, 6.5, 7, 7.5], yFmt: (v: number) => v.toFixed(1), xTickLen: 15, xPad: 8,
    wtBox: oWtBox, koBox: oKoBox, wtDots: oWtDots, koDots: oKoDots, half: 30.8, cap: 15,
    deco: [letter('O', 30, 1742), ytitle('Shannon-Weiner index', 30, 2000)],
  }),
  {
    box: [400, 1670, 1000, 2268], plot: [498.7, 1716, 942.6, 2158.6], xRange: [-.256, .537], yRange: [-.411, .472],
    xTicks: [-.25, 0, .25, .5], xFmt: (v: number) => v.toFixed(2), yTicks: [-.4, -.2, 0, .2, .4], yFmt: (v: number) => v.toFixed(1), yPad: 8, xPad: 8,
    datasets: [
      { type: 'scatter', data: pKoPoints.map(([x, y]) => ({ x, y })), pointRadius: 7.5, pointBorderWidth: 0, pointBackgroundColor: 'rgba(232,60,55,.9)', clip: false },
      { type: 'scatter', data: pWtPoints.map(([x, y]) => ({ x, y })), pointRadius: 7.5, pointBorderWidth: 0, pointBackgroundColor: 'rgba(35,35,35,.93)', clip: false },
      { type: 'scatter', data: pKoHull.map(([x, y]) => ({ x, y })), showLine: true, fill: 'shape', borderWidth: 0, borderColor: 'transparent', backgroundColor: '#e3f4fc', pointRadius: 0, tension: 0 },
      { type: 'scatter', data: pWtHull.map(([x, y]) => ({ x, y })), showLine: true, fill: 'shape', borderWidth: 0, borderColor: 'transparent', backgroundColor: '#ebe6f2', pointRadius: 0, tension: 0 },
    ],
    deco: [letter('P', 427, 1741), ytitle('PC2 (16.99%)', 421, 1961), txt('PC1 (22.2%)', 703.4, 2218), dot(610, 2247.8, 7, '#3a2a20', '', 0), txt('WT', 626, 2247.8, { align: 'left', size: 30 }), dot(723.9, 2247.8, 7, '#d8412f', '', 0), txt('KO', 739.8, 2247.8, { align: 'left', size: 30 })],
  },
  {
    box: [1000, 1715, 1560, 2268], plot: [1309.5, 1842, 1519, 2163], xRange: [0, 1], yRange: [.32, 9.5], yReverse: true,
    xTicks: [0, .2, .4, .6, .8, 1], xFmt: (v: number) => v.toFixed(1), xRot: 45, xTickLen: 15, xPad: 6,
    yTicks: qPhyla.map((_, i) => i + 1), yFmt: (v: number) => qPhyla[v - 1], yTickLen: 16, yPad: 5, yFont: { size: 31.6 },
    datasets: [{ type: 'scatter', data: qWtBoxes.map((b, i) => ({ x: b[2], y: i + 1.21 })), pointRadius: 0 }, { type: 'scatter', data: qKoBoxes.map((b, i) => ({ x: b[2], y: i + .8 })), pointRadius: 0 }],
    horizontal: true, boxLW: 3,
    boxes: [
      ...qWtBoxes.map((v, i) => ({ at: i + 1.21, v, color: BLACK, half: 6 })),
      ...qKoBoxes.map((v, i) => ({ at: i + .8, v, color: RED, half: 6 })),
    ],
    deco: [letter('Q', 1012, 1739), orc(1315, 1779.4, 1379, BLACK), orc(1315, 1805, 1379, RED), txt('WT', 1389, 1779.4, { align: 'left', size: 30 }), txt('KO', 1389, 1805, { align: 'left', size: 30 }), ln(1365, 1963.6, 1365, 1983), stars('*', 1379, 1974), txt('Relative abundance', 1408.4, 2254)],
  },
  boxPanel({
    box: [1595, 1715, 1946, 2240], plot: [1719, 1830, 1936, 2158.7], x0: 1779.5, dx: 92.3, yRange: [0, .1], yTicks: [0, .02, .04, .06, .08, .1], yFmt: (v: number) => v.toFixed(2), xPad: 9,
    wtBox: rWtBox, koBox: rKoBox, wtDots: rWtDots, koDots: rKoDots, half: 30.5, cap: 15,
    deco: [letter('R', 1608, 1739), ytitle('Relative abundance', 1611, 2002), txt('g_Mucispirillum', 1777, 1782, { size: 23 }), ...sig(1779.5, 1871.8, 1865.8, '**', 1824.7, 1846.5)],
  }),
];

function Panel({ p }: { p: any }) {
  const ref = useRef<HTMLCanvasElement>(null);
  useEffect(() => {
    if (!ref.current) return;
    const chart = new Chart(ref.current, (p.heat ? heatConfig(p) : buildConfig(p)) as any);
    return () => chart.destroy();
  }, [p]);
  const [l, t, r, b] = p.box;
  return <canvas ref={ref} width={r - l} height={b - t} style={{ position: 'absolute', left: l, top: t, width: r - l, height: b - t }} />;
}

export default function App() {
  return (
    <div style={{ position: 'absolute', left: 0, top: 0, width: 1946, height: 2268, background: '#fff', overflow: 'hidden', filter: 'blur(0.6px)' }}>
      {panels.map((p, i) => <Panel key={i} p={p} />)}
    </div>
  );
}
